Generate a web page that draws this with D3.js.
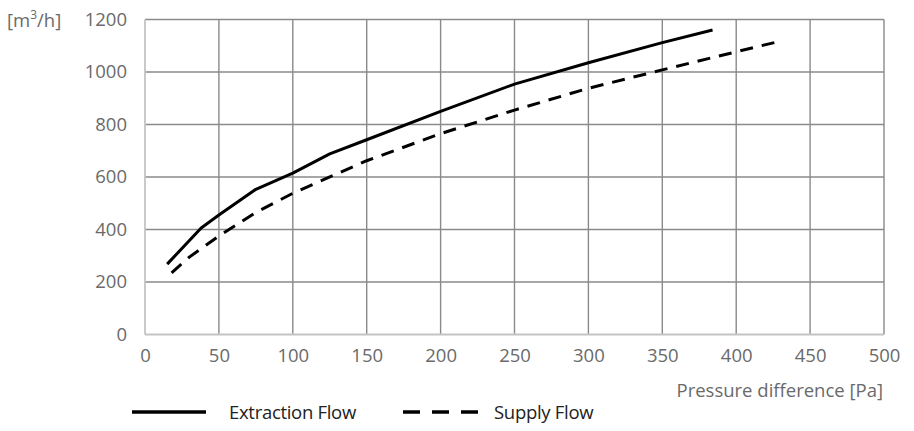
<!DOCTYPE html>
<html><head><meta charset="utf-8">
<script src="https://cdn.jsdelivr.net/npm/d3@7"></script>
<style>
body{margin:0;background:#fff;}
svg{display:block;font-family:"Open Sans",sans-serif;}
</style></head><body>
<svg id="c" width="914" height="431"></svg>
<script>
const xTicks = [0,50,100,150,200,250,300,350,400,450,500];
const yTicks = [0,200,400,600,800,1000,1200];
const extractionPa = [15,38,50,75,100,125,150,200,250,300,350,384];
const extractionFlow = [268,406,455,553,615,688,742,850,954,1035,1112,1160];
const supplyPa = [18,30,45,50,75,100,150,200,250,300,350,400,428];
const supplyFlow = [235,295,355,375,465,538,662,765,855,938,1008,1077,1115];
const seriesNames = ["Extraction Flow","Supply Flow"];

const FONT = "'Open Sans',sans-serif";
const TXT = "#6a6a6a";
const FS = 18.5;
const svg = d3.select("#c");
const x = d3.scaleLinear().domain([0,500]).range([145,884]);
const y = d3.scaleLinear().domain([0,1200]).range([334.5,19.5]);

const g = svg.append("g");
g.selectAll(".vg").data(xTicks.filter(d=>d>0)).join("line")
  .attr("x1",d=>x(d)).attr("x2",d=>x(d)).attr("y1",y(1200)).attr("y2",y(0))
  .attr("stroke","#8a8a8a").attr("stroke-width",1.4);
g.selectAll(".hg").data(yTicks.filter(d=>d>0)).join("line")
  .attr("x1",x(0)).attr("x2",x(500)).attr("y1",d=>y(d)).attr("y2",d=>y(d))
  .attr("stroke","#8a8a8a").attr("stroke-width",1.4);
g.append("line").attr("x1",x(0)).attr("x2",x(0)).attr("y1",y(1200)).attr("y2",y(0))
  .attr("stroke","#c4c4c4").attr("stroke-width",1.8);
g.append("line").attr("x1",x(0)).attr("x2",x(500)).attr("y1",y(0)).attr("y2",y(0))
  .attr("stroke","#c4c4c4").attr("stroke-width",1.8);

const xAxis = svg.append("g").attr("transform",`translate(0,${y(0)})`)
  .call(d3.axisBottom(x).tickValues(xTicks).tickFormat(d3.format("d")).tickSize(0).tickPadding(14));
xAxis.select(".domain").remove();
xAxis.selectAll("text").attr("fill",TXT).attr("font-size",FS)
  .attr("font-family",FONT).attr("font-weight",400);

const yAxis = svg.append("g").attr("transform",`translate(${x(0)},0)`)
  .call(d3.axisLeft(y).tickValues(yTicks).tickFormat(d3.format("d")).tickSize(0).tickPadding(18));
yAxis.select(".domain").remove();
yAxis.selectAll("text").attr("fill",TXT).attr("font-size",FS)
  .attr("font-family",FONT).attr("font-weight",400);

const yl = svg.append("text").attr("x",7).attr("y",27).attr("fill",TXT)
  .attr("font-size",FS);
yl.append("tspan").text("[m");
yl.append("tspan").text("3").attr("font-size",12).attr("dy",-8);
yl.append("tspan").text("/h]").attr("dy",8);

svg.append("text").attr("x",883).attr("y",397).attr("text-anchor","end")
  .attr("fill",TXT).attr("font-size",FS)
  .text("Pressure difference [Pa]");

const line = d3.line().x(d=>x(d[0])).y(d=>y(d[1]));
const ext = extractionPa.map((p,i)=>[p,extractionFlow[i]]);
const sup = supplyPa.map((p,i)=>[p,supplyFlow[i]]);
svg.append("path").datum(ext).attr("d",line).attr("fill","none")
  .attr("stroke","#000").attr("stroke-width",3).attr("stroke-linejoin","round");
svg.append("path").datum(sup).attr("d",line).attr("fill","none")
  .attr("stroke","#000").attr("stroke-width",3).attr("stroke-dasharray","13,9");

const lg = svg.append("g");
lg.append("line").attr("x1",132).attr("x2",206).attr("y1",412).attr("y2",412)
  .attr("stroke","#000").attr("stroke-width",3.5);
lg.append("text").attr("x",229).attr("y",419).attr("fill","#222").attr("font-size",18.5)
  .attr("letter-spacing",-0.3).text(seriesNames[0]);
lg.append("line").attr("x1",403).attr("x2",478).attr("y1",412).attr("y2",412)
  .attr("stroke","#000").attr("stroke-width",3.5).attr("stroke-dasharray","17,12");
lg.append("text").attr("x",494).attr("y",419).attr("fill","#222").attr("font-size",18.5)
  .attr("letter-spacing",-0.3).text(seriesNames[1]);
</script>
</body></html>
